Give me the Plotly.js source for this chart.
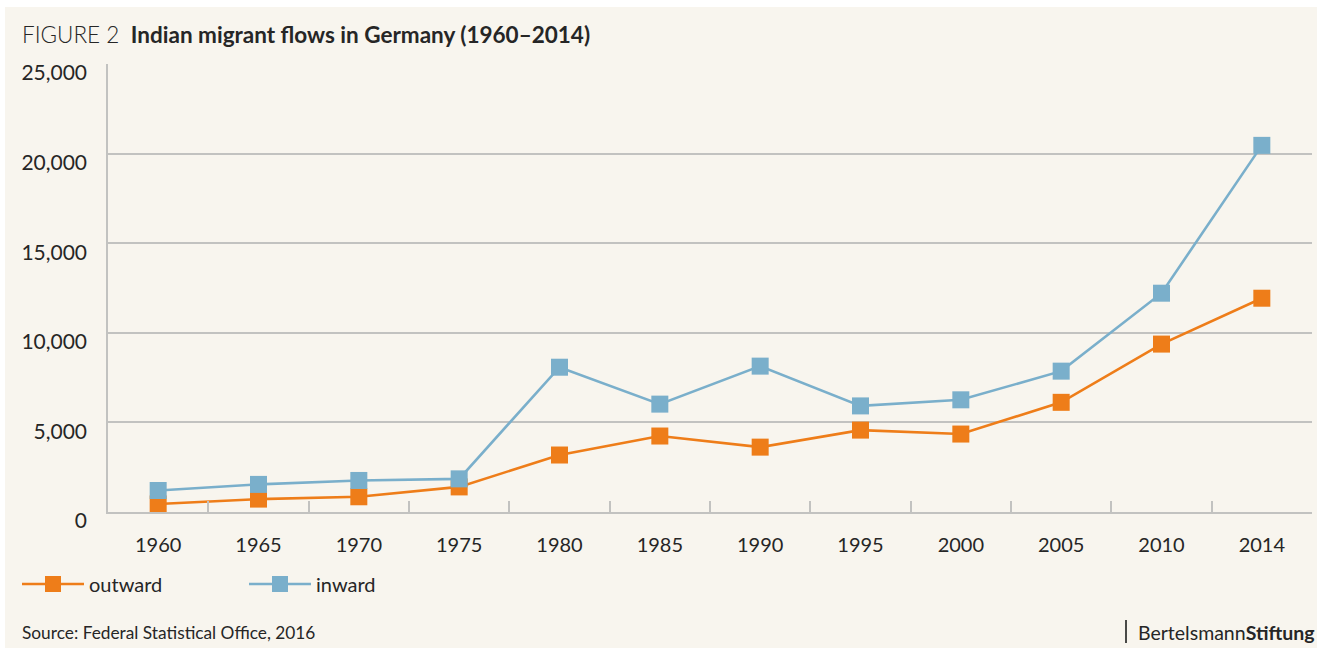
<!DOCTYPE html>
<html>
<head>
<meta charset="utf-8">
<script src="https://cdn.plot.ly/plotly-3.0.1.min.js"></script>
<style>
  html, body { margin: 0; padding: 0; background: #ffffff; width: 1317px; height: 648px; overflow: hidden; }
  #chart { position: absolute; left: 5px; top: 7px; width: 1312px; height: 641px; }
</style>
</head>
<body>
<div id="chart"></div>
<script>
// ---- data ----
const years = ['1960', '1965', '1970', '1975', '1980', '1985', '1990', '1995', '2000', '2005', '2010', '2014'];
const outward = [450, 720, 850, 1400, 3180, 4240, 3620, 4570, 4350, 6120, 9370, 11930];
const inward = [1200, 1540, 1760, 1850, 8080, 6020, 8140, 5920, 6260, 7860, 12210, 20460];
const yTickValues = [0, 5000, 10000, 15000, 20000, 25000];
const seriesNames = ['outward', 'inward'];

const ORANGE = '#ee7d19';
const BLUE = '#7aafcb';
const BG = '#f8f5ee';
const TEXT = '#262626';
const GRID = '#c2c2c0';
const FONT = 'Lato, "Open Sans", sans-serif';

const traces = [
  {
    type: 'scatter', mode: 'lines+markers', name: seriesNames[0],
    x: years, y: outward,
    line: { color: ORANGE, width: 2.6 },
    marker: { symbol: 'square', size: 17, color: ORANGE },
    hoverinfo: 'x+y+name'
  },
  {
    type: 'scatter', mode: 'lines+markers', name: seriesNames[1],
    x: years, y: inward,
    line: { color: BLUE, width: 2.6 },
    marker: { symbol: 'square', size: 17, color: BLUE },
    hoverinfo: 'x+y+name'
  }
];

const layout = {
  width: 1312, height: 641,
  paper_bgcolor: BG, plot_bgcolor: BG,
  margin: { l: 103, r: 5, t: 57, b: 136 },
  font: { family: FONT, color: TEXT, size: 20 },
  title: {
    text: '<span style="font-weight:300">FIGURE 2</span>  <b>Indian migrant flows in Germany (1960–2014)</b>',
    font: { family: FONT, size: 22.5, color: TEXT },
    xref: 'container', yref: 'container',
    x: 17 / 1312, xanchor: 'left',
    y: 1 - 28 / 641, yanchor: 'middle'
  },
  xaxis: {
    type: 'category',
    range: [-0.5, years.length - 0.5],
    tickson: 'boundaries',
    ticks: 'inside', ticklen: 11, tickwidth: 1.5, tickcolor: GRID,
    showline: true, linecolor: GRID, linewidth: 1.5,
    showgrid: false, zeroline: false,
    ticklabelstandoff: 14,
    tickfont: { family: FONT, size: 20, color: TEXT },
    fixedrange: true
  },
  yaxis: {
    range: [0, 25000],
    tickvals: yTickValues,
    tickformat: ',d',
    ticks: '',
    showline: true, linecolor: GRID, linewidth: 1.5,
    showgrid: true, gridcolor: GRID, gridwidth: 1.5,
    zeroline: false,
    ticklabelstandoff: 15,
    ticklabelshift: 9,
    tickfont: { family: FONT, size: 21, color: TEXT },
    fixedrange: true
  },
  showlegend: true,
  legend: {
    orientation: 'h',
    xref: 'container', yref: 'container',
    x: 12 / 1312, xanchor: 'left',
    y: 1 - 577 / 641, yanchor: 'middle',
    bgcolor: 'rgba(0,0,0,0)',
    font: { family: FONT, size: 20, color: TEXT },
    itemwidth: 62,
    entrywidth: 150,
    traceorder: 'normal'
  },
  shapes: [
    { type: 'line', xref: 'paper', yref: 'paper',
      x0: (1121 - 103) / 1204, x1: (1121 - 103) / 1204,
      y0: -(613 - 505) / 448, y1: -(636 - 505) / 448,
      line: { color: '#111111', width: 1.5 } }
  ],
  annotations: [
    {
      text: 'Source: Federal Statistical Office, 2016',
      xref: 'paper', yref: 'paper',
      x: -(103 - 15) / 1204, xanchor: 'left',
      y: -(625 - 505) / 448, yanchor: 'middle',
      showarrow: false,
      font: { family: FONT, size: 17.3, color: TEXT }
    },
    {
      text: 'Bertelsmann<b>Stiftung</b>',
      xref: 'paper', yref: 'paper',
      x: 1 + 5 / 1204, xanchor: 'right',
      y: -(625 - 505) / 448, yanchor: 'middle',
      showarrow: false,
      font: { family: FONT, size: 19.5, color: TEXT }
    }
  ],
  hovermode: 'closest'
};

Plotly.newPlot('chart', traces, layout, { displayModeBar: false });
</script>
</body>
</html>
